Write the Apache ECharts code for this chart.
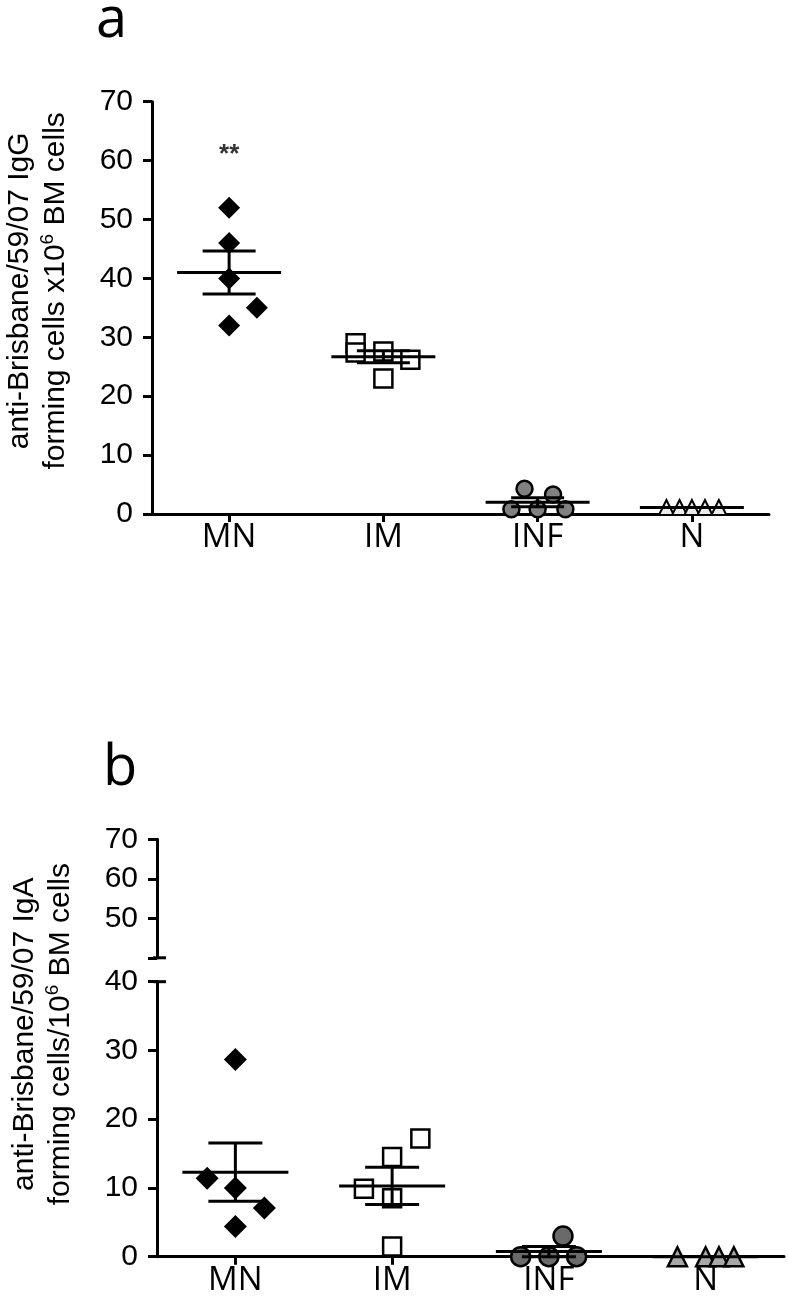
<!DOCTYPE html>
<html>
<head>
<meta charset="utf-8">
<script src="https://cdn.jsdelivr.net/npm/echarts@6/dist/echarts.min.js"></script>
<style>html,body{margin:0;padding:0;background:#fff}#c{width:788px;height:1296px}</style>
</head>
<body>
<div id="c"></div>
<script>
// ---------- data ----------
const categories = ['MN', 'IM', 'INF', 'N'];

// Panel a: IgG forming cells
const mnA  = [52, 46, 40, 35, 32];
const imA  = [29, 27.4, 27.6, 26.2, 23];
const infA = [4.3, 3.3, 0.8, 0.8, 0.8];
const nA   = [1.1, 1.1, 1.1, 1.1, 1.1];
const meanA = [41.0, 26.7, 2.0, 1.1];
const semA  = [3.65, 1.0, 0.75, 0];
const sigA  = ['**', '', '', ''];
const sigValA = [61, null, null, null];

// Panel b: IgA forming cells
const mnB  = [28.7, 11.4, 10.0, 7.1, 4.4];
const imB  = [17.2, 14.5, 9.9, 8.5, 1.5];
const infB = [3.0, 0, 0, 0];
const nB   = [0, 0, 0, 0];
const meanB = [12.3, 10.3, 0.75, 0];
const semB  = [4.25, 2.7, 0.75, 0];

// horizontal scatter of points within each column (category units)
const jitMnA  = [0, 0, 0, 0.18, 0];
const jitImA  = [-0.18, -0.18, 0, 0.175, 0];
const jitInfA = [-0.085, 0.1, -0.17, 0, 0.18];
const jitNA   = [-0.165, -0.08, 0, 0.085, 0.175];
const jitMnB  = [0, -0.18, 0, 0.185, 0];
const jitImB  = [0.18, 0, -0.18, 0, 0];
const jitInfB = [0.09, -0.18, 0, 0.177];
const jitNB   = [-0.18, 0, 0.085, 0.18];

// ---------- helpers ----------
function pts(vals, jit, ci) { return vals.map((v, k) => [ci + 0.5 + jit[k], v]); }
function errData(mean, sem) { return categories.map((c, i) => [i + 0.5, mean[i], sem[i]]); }

function errSeries(mean, sem, xi, yi, half, cap) {
  return {
    type: 'custom', xAxisIndex: xi, yAxisIndex: yi, z: 10, clip: false,
    data: errData(mean, sem),
    renderItem: function (params, api) {
      const x = api.value(0), m = api.value(1), s = api.value(2);
      const c = api.coord([x, m]);
      const t = api.coord([x, m + s]);
      const b = api.coord([x, m - s]);
      const st = { stroke: '#000', lineWidth: 3 };
      const ch = [
        { type: 'line', shape: { x1: c[0] - half, y1: c[1], x2: c[0] + half, y2: c[1] }, style: st }
      ];
      if (s > 0) {
        ch.push({ type: 'line', shape: { x1: t[0], y1: t[1], x2: b[0], y2: b[1] }, style: st });
        ch.push({ type: 'line', shape: { x1: t[0] - cap, y1: t[1], x2: t[0] + cap, y2: t[1] }, style: st });
        ch.push({ type: 'line', shape: { x1: b[0] - cap, y1: b[1], x2: b[0] + cap, y2: b[1] }, style: st });
      }
      return { type: 'group', children: ch };
    }
  };
}

function capSeries(xi, yi, val) {
  return {
    type: 'custom', xAxisIndex: xi, yAxisIndex: yi, z: 10, clip: false,
    data: [[0, val]],
    renderItem: function (params, api) {
      const c = api.coord([api.value(0), api.value(1)]);
      return { type: 'line', shape: { x1: c[0] - 4, y1: c[1], x2: c[0] + 9, y2: c[1] },
               style: { stroke: '#000', lineWidth: 3 } };
    }
  };
}

function sc(data, xi, yi, symbol, size, fill, bw) {
  return {
    type: 'scatter', xAxisIndex: xi, yAxisIndex: yi, clip: false, z: 5,
    symbol: symbol, symbolSize: size, data: data,
    itemStyle: { color: fill, borderColor: '#000', borderWidth: bw, opacity: 1 }
  };
}

const black = '#000';
const axisLineS = { show: true, onZero: false, lineStyle: { color: black, width: 3 } };
const yTick = { show: true, length: 9, lineStyle: { color: black, width: 3 } };
const yLab = { color: black, fontSize: 30, fontFamily: 'Liberation Sans', margin: 19 };
const xLab = { color: black, fontSize: 33, fontFamily: 'Open Sans', margin: 7 };
const nameStyle = (padLeft) => ({
  color: black, fontSize: 30, fontFamily: 'Liberation Sans', lineHeight: 36,
  padding: [0, 0, 0, padLeft],
  rich: { sup: { fontSize: 19, fontFamily: 'Liberation Sans', color: black, verticalAlign: 'top', lineHeight: 36 } }
});

const sigData = categories.map((c, i) => [i + 0.5, sigValA[i], sigA[i]]).filter(d => d[1] !== null);

const gridBase = { containLabel: false, outerBoundsMode: 'none' };

const option = {
  animation: false,
  backgroundColor: '#fff',
  title: [
    { text: 'a', left: 91, top: -12, textStyle: { fontSize: 56, fontWeight: 'normal', color: black, fontFamily: 'Open Sans' } },
    { text: 'b', left: 98, top: 736, textStyle: { fontSize: 56, fontWeight: 'normal', color: black, fontFamily: 'Open Sans' } }
  ],
  grid: [
    Object.assign({ left: 152, width: 617, top: 101.7, height: 412.3 }, gridBase),
    Object.assign({ left: 157, width: 627, top: 839.3, height: 118.5 }, gridBase),
    Object.assign({ left: 157, width: 627, top: 981.7, height: 275 }, gridBase)
  ],
  xAxis: [
    { type: 'category', gridIndex: 0, data: categories, axisLine: axisLineS,
      axisTick: { show: true, alignWithLabel: true, length: 8, lineStyle: { color: black, width: 3 } },
      axisLabel: xLab, splitLine: { show: false } },
    { type: 'value', gridIndex: 0, min: 0, max: 4, show: false },
    { type: 'value', gridIndex: 1, min: 0, max: 4, show: false },
    { type: 'category', gridIndex: 2, data: categories, axisLine: axisLineS,
      axisTick: { show: true, alignWithLabel: true, length: 8, lineStyle: { color: black, width: 3 } },
      axisLabel: xLab, splitLine: { show: false } },
    { type: 'value', gridIndex: 2, min: 0, max: 4, show: false }
  ],
  yAxis: [
    { type: 'value', gridIndex: 0, min: 0, max: 70, interval: 10,
      axisLine: axisLineS, axisTick: yTick, axisLabel: yLab, splitLine: { show: false },
      name: 'anti-Brisbane/59/07 IgG\nforming cells x10{sup|6} BM cells',
      nameLocation: 'middle', nameRotate: 90, nameGap: 78, nameMoveOverlap: false,
      nameTextStyle: nameStyle(34) },
    { type: 'value', gridIndex: 1, min: 40, max: 70, interval: 10,
      axisLine: axisLineS, axisTick: yTick,
      axisLabel: Object.assign({}, yLab, { formatter: v => (v === 40 ? '' : String(v)) }),
      splitLine: { show: false } },
    { type: 'value', gridIndex: 2, min: 0, max: 40, interval: 10,
      axisLine: axisLineS, axisTick: yTick, axisLabel: yLab, splitLine: { show: false },
      name: 'anti-Brisbane/59/07 IgA\nforming cells/10{sup|6} BM cells',
      nameLocation: 'middle', nameRotate: 90, nameGap: 78, nameMoveOverlap: false,
      nameTextStyle: nameStyle(170) }
  ],
  series: [
    // panel a
    sc(pts(mnA, jitMnA, 0), 1, 0, 'diamond', 22, '#000', 0),
    sc(pts(imA, jitImA, 1), 1, 0, 'rect', 18, '#fff', 2.5),
    sc(pts(infA, jitInfA, 2), 1, 0, 'circle', 16, '#808080', 2.5),
    sc(pts(nA, jitNA, 3), 1, 0, 'triangle', 15, '#ececec', 2),
    errSeries(meanA, semA, 1, 0, 52, 26.5),
    {
      type: 'scatter', xAxisIndex: 1, yAxisIndex: 0, symbolSize: 1, z: 11,
      itemStyle: { color: 'rgba(0,0,0,0)' },
      data: sigData,
      label: { show: true, position: 'inside', formatter: p => p.data[2], color: black, fontSize: 26, fontWeight: 'bold', fontFamily: 'Liberation Sans' }
    },
    // panel b (lower segment)
    sc(pts(mnB, jitMnB, 0), 4, 2, 'diamond', 23, '#000', 0),
    sc(pts(imB, jitImB, 1), 4, 2, 'rect', 18, '#fff', 2.5),
    sc(pts(infB, jitInfB, 2), 4, 2, 'circle', 19, '#6a6a6a', 2.5),
    sc(pts(nB, jitNB, 3), 4, 2, 'triangle', 19, '#a8a8a8', 2.5),
    errSeries(meanB, semB, 4, 2, 53, 27),
    // axis-break caps
    capSeries(2, 1, 40),
    capSeries(4, 2, 40)
  ]
};

const chart = echarts.init(document.getElementById('c'), null, { renderer: 'canvas' });
chart.setOption(option);
</script>
</body>
</html>
